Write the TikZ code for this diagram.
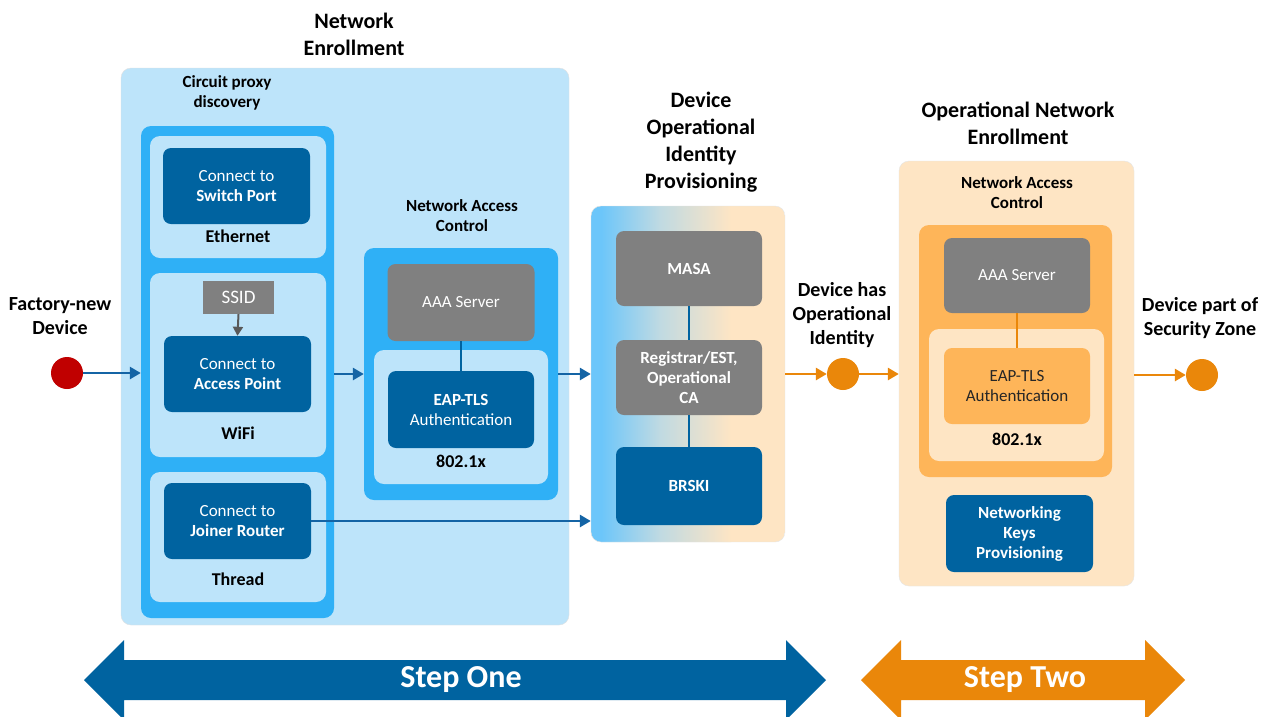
\documentclass[tikz,border=0pt]{standalone}
\usepackage{fontspec}
\setmainfont{Carlito}
\usetikzlibrary{arrows.meta}
\definecolor{lblue}{RGB}{189,228,250}
\definecolor{mblue}{RGB}{47,176,246}
\definecolor{dblue}{RGB}{0,99,160}
\definecolor{ablue}{RGB}{20,100,165}
\definecolor{bgray}{RGB}{128,128,128}
\definecolor{agray}{RGB}{89,89,89}
\definecolor{peach}{RGB}{254,229,196}
\definecolor{lorange}{RGB}{254,181,89}
\definecolor{dorange}{RGB}{234,135,10}
\definecolor{dred}{RGB}{192,0,0}
\definecolor{sblue}{RGB}{108,198,250}
\definecolor{smid}{RGB}{192,218,226}
\tikzset{
  sz/.style 2 args={minimum width=#1pt, minimum height=#2pt},
  box/.style={rounded corners=8pt, inner sep=0pt, align=center, text=white, font=\fontsize{17}{20}\selectfont},
  darkbox/.style={box, fill=dblue},
  graybox/.style={box, fill=bgray},
  orbox/.style={box, fill=lorange, text=black!85},
  boldbox/.style={font=\fontsize{17}{20}\selectfont\bfseries},
  area/.style={rounded corners=10pt, inner sep=0pt},
  title/.style={align=center, font=\fontsize{22}{27}\selectfont\bfseries},
  sub/.style={align=center, font=\fontsize{17}{20}\selectfont\bfseries},
  lab/.style={align=center, font=\fontsize{20}{24}\selectfont\bfseries},
  tag/.style={font=\fontsize{18}{20}\selectfont\bfseries},
  barrow/.style={draw=ablue, line width=2.7pt, -{Triangle[length=11pt,width=12pt]}},
  oarrow/.style={draw=dorange, line width=2.7pt, -{Triangle[length=11pt,width=12pt]}},
  bline/.style={draw=dblue, line width=2.5pt},
  oline/.style={draw=dorange, line width=2.5pt},
  dot/.style={circle, inner sep=0pt, minimum size=32pt},
  steptext/.style={text=white, font=\fontsize{32}{34}\selectfont\bfseries},
}
\begin{document}
\begin{tikzpicture}[x=1pt,y=-1pt]
\useasboundingbox (0,0) rectangle (1271,716);
\clip (0,0) rectangle (1271,716);
\fill[white] (0,0) rectangle (1271,716);

% ===== Network Enrollment =====
\node[title] (netenr) at (354,34.5) {Network\\Enrollment};
\node[area, fill=lblue, draw=black!12, sz={448}{557}] (ne) at (345,346.5) {};
\node[sub] (cpd) at (227,93) {Circuit proxy\\discovery};
\node[area, fill=mblue, sz={193}{492}] (col) at (237.5,372) {};
\node[area, fill=lblue, sz={176}{122}] (eth) at (238,197) {};
\node[darkbox, sz={147}{76}] (sw) at (236.5,186) {Connect to\\\textbf{Switch Port}};
\node[tag] (ethl) at (238,236) {Ethernet};
\node[area, fill=lblue, sz={176}{184}] (wifi) at (238,365) {};
\node[box, fill=bgray, rounded corners=0pt, sz={71}{33}, font=\fontsize{19}{20}\selectfont] (ssid) at (238.5,297.5) {SSID};
\node[darkbox, sz={147}{76}] (ap) at (237.5,374) {Connect to\\\textbf{Access Point}};
\node[tag] (wifil) at (238,433) {WiFi};
\node[area, fill=lblue, sz={176}{130}] (thr) at (238,537) {};
\node[darkbox, sz={147}{76}] (jr) at (237.5,521) {Connect to\\\textbf{Joiner Router}};
\node[tag] (thrl) at (238,579) {Thread};
\draw[draw=agray, line width=2pt, -{Triangle[length=9pt,width=10pt]}] (ssid.south) -- (ap.north);

\node[sub] (nacl) at (462,216) {Network Access\\Control};
\node[area, fill=mblue, sz={194}{252}] (nac) at (461,374) {};
\node[graybox, sz={147}{77}] (aaa) at (461,302.5) {AAA Server};
\node[area, fill=lblue, sz={174}{134}] (dotx) at (461,417) {};
\node[darkbox, sz={146}{77}] (eap) at (461,409.5) {\textbf{EAP-TLS}\\Authentication};
\node[tag] (dotxl) at (461,461) {802.1x};
\draw[bline] (aaa.south) -- (eap.north);

% ===== Device Operational Identity Provisioning =====
\node[title] (doipt) at (701,142) {Device\\Operational\\Identity\\Provisioning};
\begin{scope}
  \clip[rounded corners=10pt] (591,206) rectangle (785,542);
  \fill[peach] (591,206) rectangle (785,542);
  \fill[sblue] (591,206) rectangle (601,542);
  \shade[left color=sblue, right color=smid] (601,206) rectangle (660,542);
  \shade[left color=smid, right color=peach] (660,206) rectangle (731,542);
\end{scope}
\node[area, draw=black!10, sz={194}{336}] (doip) at (688,374) {};
\node[graybox, boldbox, sz={146}{75}] (masa) at (689,268.5) {MASA};
\node[graybox, boldbox, sz={146}{75}] (reg) at (689,377.5) {Registrar/EST,\\Operational\\CA};
\node[darkbox, boldbox, sz={146}{78}] (brski) at (689,486) {BRSKI};
\draw[bline] (masa.south) -- (reg.north);
\draw[bline] (reg.south) -- (brski.north);

% ===== Operational Network Enrollment =====
\node[title] (onet) at (1018,123.5) {Operational Network\\Enrollment};
\node[area, fill=peach, draw=black!10, sz={235}{425}] (one) at (1016.5,373.5) {};
\node[sub] (nac2l) at (1017,192.5) {Network Access\\Control};
\node[area, fill=lorange, sz={193}{252}] (onac) at (1015.5,351) {};
\node[graybox, sz={146}{75}] (aaa2) at (1017,275.5) {AAA Server};
\node[area, fill=peach, sz={175}{132}] (dotx2) at (1016.5,395) {};
\node[orbox, sz={146}{76}] (eap2) at (1017,386) {EAP-TLS\\Authentication};
\node[tag] (dotx2l) at (1017,439) {802.1x};
\draw[oline] (aaa2.south) -- (eap2.north);
\node[darkbox, boldbox, sz={147}{77}] (nkp) at (1019.5,533.5) {Networking\\Keys\\Provisioning};

% ===== endpoints =====
\node[lab] (fnd) at (60,316.5) {Factory-new\\Device};
\node[dot, fill=dred] (start) at (67,373) {};
\node[lab] (dhoi) at (842,315) {Device has\\Operational\\Identity};
\node[dot, fill=dorange] (mid) at (843,374) {};
\node[lab] (dpsz) at (1200,318) {Device part of\\Security Zone};
\node[dot, fill=dorange] (fin) at (1202,375) {};

% ===== connectors =====
\draw[barrow] (start.east) -- (col.west |- start.east);
\draw[barrow] (col.east |- nac.west) -- (nac.west);
\draw[barrow] (nac.east) -- (doip.west |- nac.east);
\draw[barrow] (jr.east) -- (doip.west |- jr.east);
\draw[oarrow] (doip.east |- mid.west) -- (mid.west);
\draw[oarrow] (mid.east) -- (one.west |- mid.east);
\draw[oarrow] (one.east |- fin.west) -- (fin.west);

% ===== step arrows =====
\fill[dblue] (84,680) -- (124,640) -- (124,660) -- (786,660) -- (786,640) -- (826,680) -- (786,720) -- (786,700) -- (124,700) -- (124,720) -- cycle;
\node[steptext] (s1) at (461,680) {Step One};
\fill[dorange] (861,680) -- (901,640) -- (901,660) -- (1145,660) -- (1145,640) -- (1185,680) -- (1145,720) -- (1145,700) -- (901,700) -- (901,720) -- cycle;
\node[steptext] (s2) at (1025,680) {Step Two};
\end{tikzpicture}
\end{document}
